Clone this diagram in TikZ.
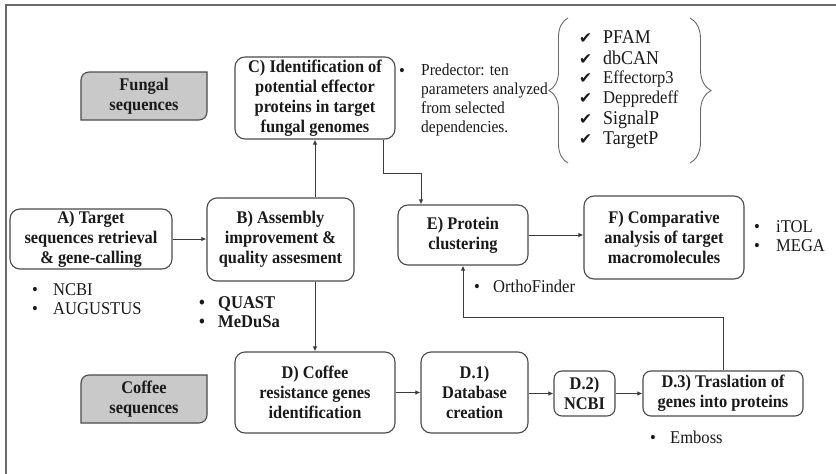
\documentclass[tikz,border=0pt]{standalone}
\usepackage{fontspec}
\setmainfont{Liberation Serif}[FakeStretch=0.92]
\newfontfamily\dejavu{DejaVu Sans}
\usetikzlibrary{arrows.meta,decorations.pathreplacing}
\definecolor{boxgray}{HTML}{4A4A4A}
\definecolor{linegray}{HTML}{3A3A3A}
\definecolor{framegray}{HTML}{6A6A6A}
\definecolor{fillgray}{HTML}{C9C9C9}
\definecolor{txt}{HTML}{1A1A1A}
\begin{document}
\begin{tikzpicture}[x=1pt,y=1pt,
  box/.style={draw=boxgray, line width=1.1pt, rounded corners=10pt, align=center,
    font=\bfseries\fontsize{17.8}{19.8}\selectfont, text=txt, inner sep=0pt},
  arr/.style={draw=linegray, line width=1pt, -{Latex[length=5pt,width=4.5pt]}},
  note/.style={anchor=west, align=left, font=\fontsize{18}{19}\selectfont, text=txt, inner sep=0pt},
  grp/.style={draw=boxgray, line width=1.1pt, fill=fillgray},
  brc/.style={draw=framegray, line width=0.9pt, decorate},
]
\useasboundingbox (0,0) rectangle (836,-474);
\fill[white] (0,0) rectangle (836,-474);
\draw[framegray, line width=1.6pt] (6,-474) -- (6,-5) -- (836,-5);

% group label boxes
\draw[grp] (81,-120) -- (81,-80) arc[start angle=180,end angle=90,radius=8pt] -- (207,-72) -- (207,-112) arc[start angle=0,end angle=-90,radius=8pt] -- cycle;
\node[font=\bfseries\fontsize{17.8}{19.8}\selectfont, align=center, text=txt] (fung) at (144,-96) {Fungal\\sequences};
\draw[grp] (81,-423) -- (81,-383) arc[start angle=180,end angle=90,radius=8pt] -- (207,-375) -- (207,-415) arc[start angle=0,end angle=-90,radius=8pt] -- cycle;
\node[font=\bfseries\fontsize{17.8}{19.8}\selectfont, align=center, text=txt] (coff) at (144,-399) {Coffee\\sequences};

% process boxes
\node[box, minimum width=162pt, minimum height=60pt] (A) at (91,-239) {A) Target\\sequences retrieval\\\& gene-calling};
\node[box, minimum width=147pt, minimum height=83pt] (B) at (280.5,-239.5) {B) Assembly\\improvement \&\\quality assesment};
\node[box, minimum width=160pt, minimum height=82pt] (C) at (315,-98) {C) Identification of\\potential effector\\proteins in target\\fungal genomes};
\node[box, minimum width=130pt, minimum height=60pt] (E) at (463,-235) {E) Protein\\clustering};
\node[box, minimum width=160pt, minimum height=83pt] (F) at (664,-237.5) {F) Comparative\\analysis of target\\macromolecules};
\node[box, minimum width=160pt, minimum height=81pt] (D) at (315,-392.5) {D) Coffee\\resistance genes\\identification};
\node[box, minimum width=107pt, minimum height=81pt] (D1) at (474.5,-392.5) {D.1)\\Database\\creation};
\node[box, minimum width=61pt, minimum height=45pt, rounded corners=8pt] (D2) at (584.5,-393.5) {D.2)\\NCBI};
\node[box, minimum width=160pt, minimum height=45pt, rounded corners=8pt] (D3) at (723,-393.5) {D.3) Traslation of\\genes into proteins};

% connectors
\draw[arr] (A.east) -- (A.east -| B.west);
\draw[arr] (B.north -| C.south) -- (C.south);
\draw[arr] (B.south -| D.north) -- (D.north);
\draw[arr] ([xshift=68pt]C.south) -- ++(0,-34) -| ([xshift=-42pt]E.north);
\draw[arr] (E.east) -- (E.east -| F.west);
\draw[arr] (D.east) -- (D.east -| D1.west);
\draw[arr] (D1.east |- D2.west) -- (D2.west);
\draw[arr] (D2.east) -- (D2.east -| D3.west);
\draw[arr] (D3.north) |- ([yshift=-52pt]E.south) -- (E.south);

% notes (bullet left edge ~ bullet centre - 3pt)
\node[note] (nA) at (32,-299.5) {\makebox[21pt][l]{•}NCBI\\\makebox[21pt][l]{•}AUGUSTUS};
\node[note, font=\bfseries\fontsize{18}{19}\selectfont] (nB) at (199,-312.5) {\makebox[19pt][l]{•}QUAST\\\makebox[19pt][l]{•}MeDuSa};
\node[note] (nF) at (754,-236) {\makebox[22pt][l]{•}iTOL\\\makebox[22pt][l]{•}MEGA};
\node[note] (nE) at (474,-286) {\makebox[19pt][l]{•}OrthoFinder};
\node[note] (nD3) at (650,-437) {\makebox[20pt][l]{•}Emboss};
\node[note] (nCb) at (399,-72) {•};
\node[note, font=\fontsize{16.8}{18.7}\selectfont] (nC) at (421,-100) {Predector: ten\\parameters analyzed\\from selected\\dependencies.};

% braces
\coordinate (lbB) at (568,-163);
\coordinate (lbT) at (568,-18);
\coordinate (rbT) at (690,-18);
\coordinate (rbB) at (690,-163);
\draw[brc, decoration={brace, amplitude=19pt}] (lbB) -- (lbT);
\draw[brc, decoration={brace, amplitude=21pt}] (rbT) -- (rbB);

% checklist
\foreach \i/\y/\s/\t in {1/37/19.5/PFAM, 2/57.5/19.5/dbCAN, 3/79/18/Effectorp3, 4/99/18/Deppredeff, 5/120/19.5/SignalP, 6/140/19.5/TargetP}{
  \node[note, font=\fontsize{\s}{\s}\selectfont] (chk\i) at (579,-\y) {\makebox[24pt][l]{\dejavu\fontsize{15.5}{15.5}\selectfont ✔}\t};
}
\end{tikzpicture}
\end{document}
